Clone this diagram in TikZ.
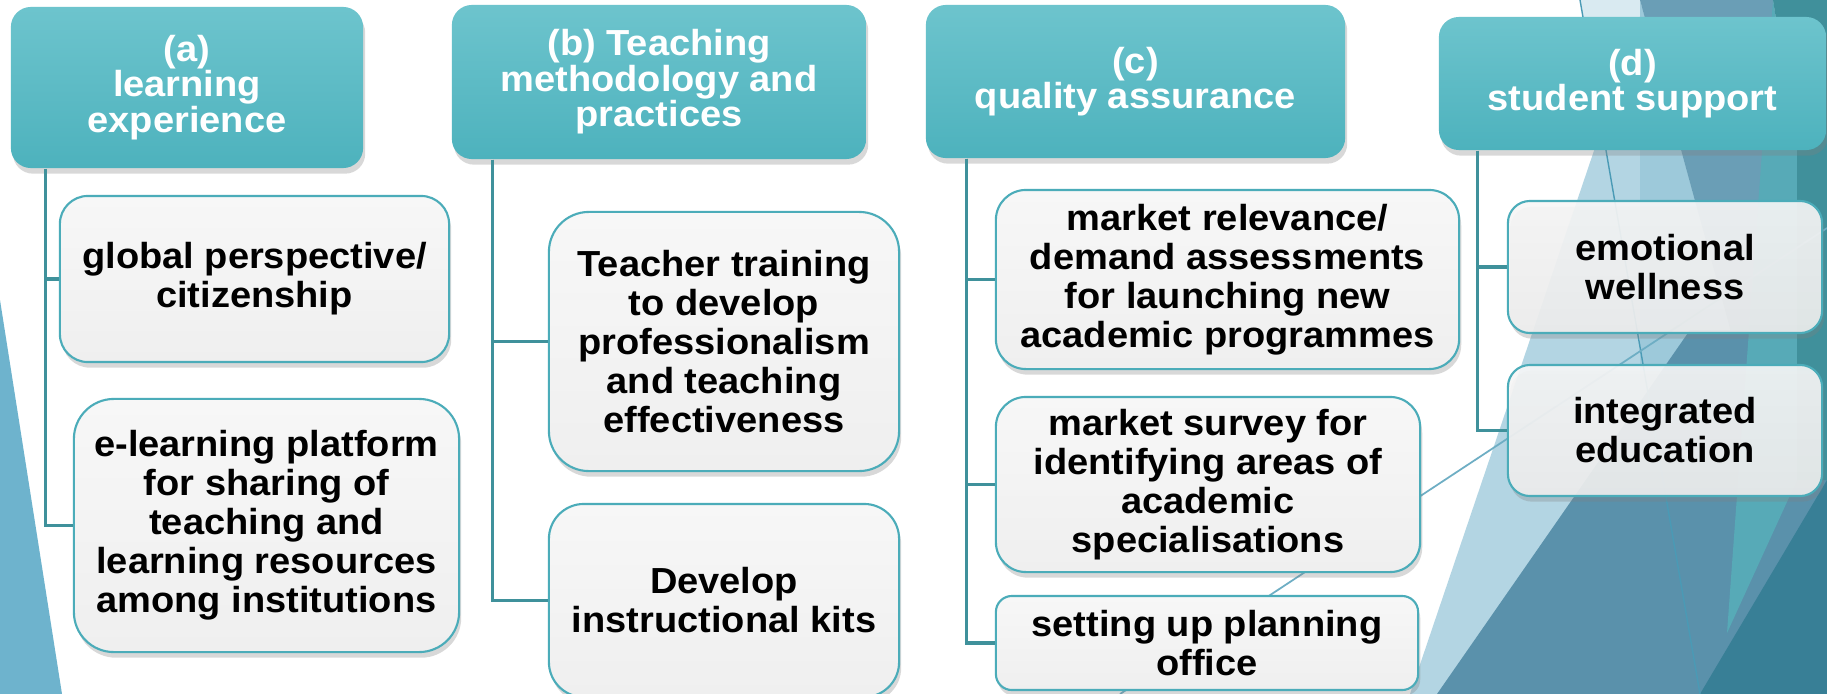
\documentclass[tikz,border=0pt]{standalone}
\usepackage{fontspec}
\newfontfamily\boxfont{Liberation Sans}[FakeStretch=1.05]
\usetikzlibrary{shadows}
\usepackage{xcolor}

\definecolor{tealtop}{HTML}{6DC4CD}
\definecolor{tealbot}{HTML}{4DB2BD}
\definecolor{leafline}{HTML}{4BACB9}
\definecolor{leaftop}{HTML}{F7F7F7}
\definecolor{leafbot}{HTML}{EFEFEF}
\definecolor{linkteal}{HTML}{3F919B}
\definecolor{facetleft}{HTML}{6EB3CD}
\definecolor{facetlight}{HTML}{B3D5E3}
\definecolor{facetpale}{HTML}{D9EAF1}
\definecolor{facetmid}{HTML}{9DC9DA}
\definecolor{facetsteel}{HTML}{6A9EB6}
\definecolor{facetdeep}{HTML}{5A91AB}
\definecolor{facetaqua}{HTML}{57AAB7}
\definecolor{facetteal}{HTML}{40909B}
\definecolor{facetnight}{HTML}{387F96}
\definecolor{facetrule}{HTML}{4A9AB5}

\begin{document}
\begin{tikzpicture}[
        x=0.01cm, y=-0.01cm,
        headbox/.style={rectangle, rounded corners=0.2cm, top color=tealtop, bottom color=tealbot, text=white, font=\boxfont\bfseries\fontsize{10.3}{10.1}\selectfont, align=center, inner sep=0pt, drop shadow={shadow xshift=0.6pt, shadow yshift=-1.6pt, opacity=0.3}},
        leafbox/.style={rectangle, rounded corners=#1, draw=leafline, line width=0.6pt, top color=leaftop, bottom color=leafbot, text=black, font=\boxfont\bfseries\fontsize{10.3}{11.1}\selectfont, align=center, inner sep=0pt, drop shadow={shadow xshift=0.6pt, shadow yshift=-1.6pt, opacity=0.3}},
        leafbox/.default=0.28cm,
        link/.style={draw=linkteal, line width=0.9pt}
    ]

    \useasboundingbox (0,0) rectangle (1827,694);
    \clip (0,0) rectangle (1827,694);
    \fill[white] (0,0) rectangle (1827,694);

    % Facets behind the chart
    \fill[facetleft] (0,300) -- (62,694) -- (0,694) -- cycle;
    \fill[facetlight] (1645,0) -- (1827,0) -- (1827,694) -- (1410,694) -- cycle;
    \fill[facetpale] (1580,0) -- (1645,0) -- (1602,127) -- cycle;
    \fill[facetmid] (1640,0) -- (1640,420) -- (1755,420) -- cycle;
    \fill[facetsteel] (1640,0) -- (1773,0) -- (1800,420) -- (1755,420) -- cycle;
    \fill[facetdeep] (1437,694) -- (1690,330) -- (1827,330) -- (1827,694) -- cycle;
    \fill[facetaqua] (1773,0) -- (1797,150) -- (1797,480) -- (1727,633) -- cycle;
    \fill[facetteal] (1773,0) -- (1827,0) -- (1827,480) -- (1797,480) -- (1797,150) -- cycle;
    \fill[facetnight] (1700,694) -- (1827,480) -- (1827,694) -- cycle;
    \draw[facetrule, line width=0.4pt] (1580,0) -- (1700,694);
    \draw[facetrule!80!white, line width=0.5pt] (1120,694) -- (1827,228);

    % The Heading Boxes
    \node (headA) [headbox, minimum width=3.52cm, minimum height=1.61cm] at (187,87.5) {(a)\\learning\\experience};
    \node (headB) [headbox, minimum width=4.14cm, minimum height=1.54cm] at (659,82) {(b) Teaching\\methodology and\\practices};
    \node (headC) [headbox, minimum width=4.19cm, minimum height=1.53cm] at (1135.5,81.5) {(c)\\quality assurance};
    \node (headD) [headbox, minimum width=3.87cm, minimum height=1.33cm] at (1632.5,83.5) {(d)\\student support};

    % The Item Boxes
    \node (leafA1) [leafbox, minimum width=3.89cm, minimum height=1.66cm] at (254.5,279) {global perspective/\\citizenship};
    \node (leafA2) [leafbox=0.4cm, minimum width=3.85cm, minimum height=2.53cm] at (266.5,525.5) {e-learning platform\\for sharing of\\teaching and\\learning resources\\among institutions};

    \node (leafB1) [leafbox=0.4cm, minimum width=3.50cm, minimum height=2.59cm] at (724,341.5) {Teacher training\\to develop\\professionalism\\and teaching\\effectiveness};
    \node (leafB2) [leafbox=0.35cm, minimum width=3.50cm, minimum height=1.93cm] at (724,600.5) {Develop\\instructional kits};

    \node (leafC1) [leafbox=0.3cm, minimum width=4.63cm, minimum height=1.79cm] at (1227.5,279.5) {market relevance/\\demand assessments\\for launching new\\academic programmes};
    \node (leafC2) [leafbox=0.3cm, minimum width=4.24cm, minimum height=1.75cm] at (1208,484.5) {market survey for\\identifying areas of\\academic\\specialisations};
    \node (leafC3) [leafbox=0.16cm, minimum width=4.22cm, minimum height=0.94cm] at (1207,643) {setting up planning\\office};

    \node (leafD1) [leafbox=0.22cm, fill opacity=0.9, text opacity=1, minimum width=3.14cm, minimum height=1.32cm] at (1665,267) {emotional\\wellness};
    \node (leafD2) [leafbox=0.22cm, fill opacity=0.9, text opacity=1, minimum width=3.14cm, minimum height=1.31cm] at (1665,430.5) {integrated\\education};

    % The Branch Lines
    \draw [link] ([xshift=0.35cm]headA.south west) |- (leafA1.west);
    \draw [link] ([xshift=0.35cm]headA.south west) |- (leafA2.west);
    \draw [link] ([xshift=0.41cm]headB.south west) |- (leafB1.west);
    \draw [link] ([xshift=0.41cm]headB.south west) |- (leafB2.west);
    \draw [link] ([xshift=0.41cm]headC.south west) |- (leafC1.west);
    \draw [link] ([xshift=0.41cm]headC.south west) |- (leafC2.west);
    \draw [link] ([xshift=0.41cm]headC.south west) |- (leafC3.west);
    \draw [link] ([xshift=0.39cm]headD.south west) |- (leafD1.west);
    \draw [link] ([xshift=0.39cm]headD.south west) |- (leafD2.west);

\end{tikzpicture}
\end{document}
